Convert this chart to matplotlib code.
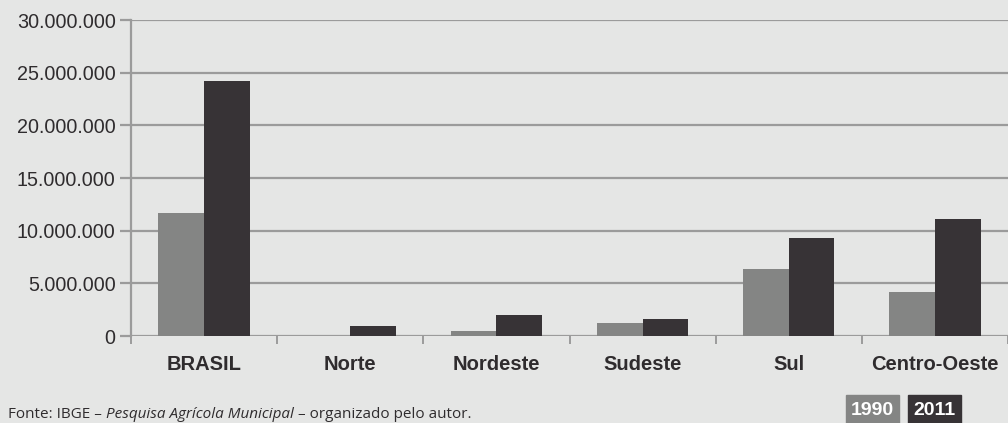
import matplotlib
matplotlib.use("Agg")
import matplotlib.pyplot as plt
from matplotlib.patches import Rectangle
from matplotlib.ticker import FuncFormatter
import numpy as np

# data
regions = ["BRASIL", "Norte", "Nordeste", "Sudeste", "Sul", "Centro-Oeste"]
years = ["1990", "2011"]
v1990 = [11_630_000, 0, 430_000, 1_280_000, 6_320_000, 4_130_000]
v2011 = [24_170_000, 950_000, 2_040_000, 1_660_000, 9_350_000, 11_070_000]
source = "Fonte: IBGE – "
source_it = "Pesquisa Agrícola Municipal"
source_end = " – organizado pelo autor."

BG = "#e5e6e5"
C1990 = "#848584"
C2011 = "#373336"
GRID = "#9b9b9b"
TXT = "#2f2c2e"
SANS = ["Liberation Sans", "DejaVu Sans"]

W, H = 1008, 423
fig = plt.figure(figsize=(W / 100, H / 100), dpi=100, facecolor=BG)

ax_l, ax_r, ax_t, ax_b = 131, 1008, 20, 336
ax = fig.add_axes([ax_l / W, 1 - ax_b / H, (ax_r - ax_l) / W, (ax_b - ax_t) / H])
ax.set_facecolor(BG)

cat_w = 147.5  # px per category
x = np.arange(len(regions))
bw = 0.312
ax.bar(x - bw / 2, v1990, width=bw, color=C1990, zorder=3)
ax.bar(x + bw / 2, v2011, width=bw, color=C2011, zorder=3)

ax.set_xlim(-0.5, -0.5 + (ax_r - ax_l) / cat_w)
ax.set_ylim(0, 30_000_000)

ax.set_yticks(np.arange(0, 30_000_001, 5_000_000))
ax.yaxis.set_major_formatter(FuncFormatter(lambda v, p: f"{int(v):,}".replace(",", ".")))
ax.grid(axis="y", color=GRID, linewidth=1.6, zorder=1)
ax.set_axisbelow(True)

ax.set_xticks(np.arange(-0.5, len(regions), 1.0))
ax.set_xticklabels([])
ax.set_xticks(x, minor=True)
ax.set_xticklabels(regions, minor=True, fontsize=14.5, fontweight="bold",
                   color=TXT, family=SANS)
ax.tick_params(axis="x", which="major", length=6, width=1.4, color=GRID, direction="out")
ax.tick_params(axis="x", which="minor", length=0, pad=14)
ax.tick_params(axis="y", length=8, width=1.6, color=GRID, pad=3,
               labelsize=14.2, labelcolor=TXT)
for lab in ax.get_yticklabels():
    lab.set_family(SANS)

for s in ["top", "right", "bottom"]:
    ax.spines[s].set_visible(False)
ax.spines["left"].set_color(GRID)
ax.spines["left"].set_linewidth(1.6)

# source line
fam = ["Open Sans", "DejaVu Sans"]
t1 = fig.text(8 / W, 1 - 418 / H, source, fontsize=11, color=TXT, family=fam, va="baseline")
fig.canvas.draw()
r = fig.canvas.get_renderer()
bb = t1.get_window_extent(r)
t2 = fig.text(bb.x1 / W, 1 - 418 / H, source_it, fontsize=11, color=TXT, family=fam,
              style="italic", va="baseline")
bb2 = t2.get_window_extent(r)
fig.text(bb2.x1 / W, 1 - 418 / H, source_end, fontsize=11, color=TXT, family=fam, va="baseline")

# legend boxes
boxes = [(846, 899, C1990), (908, 961, C2011)]
for (x0, x1, c), yr in zip(boxes, years):
    fig.patches.append(Rectangle((x0 / W, 0), (x1 - x0) / W, (H - 395) / H,
                                 transform=fig.transFigure, color=c, zorder=0))
    fig.text((x0 + x1) / 2 / W, 1 - 410 / H, yr, ha="center", va="center",
             color="white", fontsize=14, fontweight="bold", family=SANS)

fig.savefig("out.png", dpi=100, facecolor=BG)
